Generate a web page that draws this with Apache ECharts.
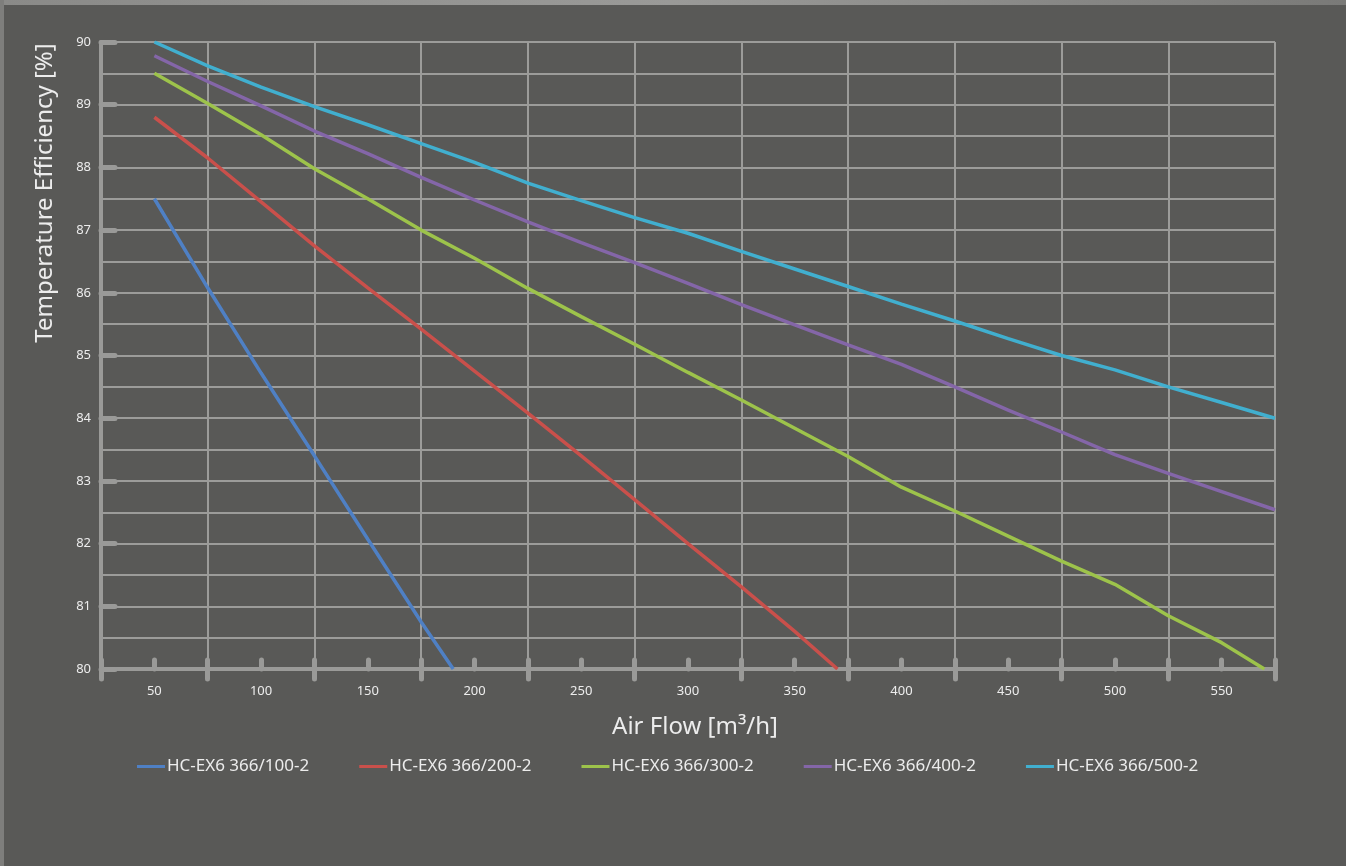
<!DOCTYPE html>
<html>
<head>
<meta charset="utf-8">
<script src="https://cdn.jsdelivr.net/npm/echarts@6/dist/echarts.min.js"></script>
<style>
html,body{margin:0;padding:0;background:#595957;}
#c{width:1346px;height:866px;}
</style>
</head>
<body>
<div id="c"></div>
<script>
// ---- data ----
const seriesNames = ['HC-EX6 366/100-2','HC-EX6 366/200-2','HC-EX6 366/300-2','HC-EX6 366/400-2','HC-EX6 366/500-2'];
const flow100 = [50, 75, 100, 125, 150, 175, 190];
const eff100  = [87.5, 86.08, 84.72, 83.4, 82.07, 80.75, 80.0];
const flow200 = [50, 75, 100, 125, 150, 175, 200, 225, 250, 275, 300, 325, 350, 370];
const eff200  = [88.8, 88.15, 87.45, 86.75, 86.08, 85.42, 84.75, 84.08, 83.4, 82.7, 82.0, 81.31, 80.6, 80.0];
const flow300 = [50, 75, 100, 125, 150, 175, 200, 225, 250, 275, 300, 325, 350, 375, 400, 425, 450, 475, 500, 525, 550, 570];
const eff300  = [89.5, 89.02, 88.52, 87.98, 87.5, 87.0, 86.55, 86.07, 85.62, 85.18, 84.73, 84.29, 83.84, 83.39, 82.9, 82.52, 82.12, 81.72, 81.35, 80.85, 80.42, 80.0];
const flow400 = [50, 75, 100, 125, 150, 175, 200, 225, 250, 275, 300, 325, 350, 375, 400, 425, 450, 475, 500, 525, 550, 575];
const eff400  = [89.78, 89.37, 88.98, 88.58, 88.22, 87.84, 87.48, 87.13, 86.8, 86.48, 86.15, 85.81, 85.49, 85.17, 84.86, 84.5, 84.13, 83.78, 83.42, 83.12, 82.83, 82.54];
const flow500 = [50, 75, 100, 125, 150, 175, 200, 225, 250, 275, 300, 325, 350, 375, 400, 425, 450, 475, 500, 525, 550, 575];
const eff500  = [90.0, 89.62, 89.28, 88.97, 88.68, 88.38, 88.08, 87.75, 87.47, 87.2, 86.95, 86.66, 86.38, 86.1, 85.82, 85.55, 85.27, 85.0, 84.77, 84.5, 84.25, 84.0];
const xLabelValues = [50,100,150,200,250,300,350,400,450,500,550];
const yLabelValues = [80,81,82,83,84,85,86,87,88,89,90];
const xTitle = 'Air Flow [m³/h]';
const yTitle = 'Temperature Efficiency [%]';

const flows = [flow100, flow200, flow300, flow400, flow500];
const effs = [eff100, eff200, eff300, eff400, eff500];
const colors = ['#4f80c4','#c9504b','#9dc34b','#8466a8','#41afcf'];

const FONT = '"Noto Sans", "Open Sans", sans-serif';
const gridCol = '#9c9c9a';
const axisCol = '#9a9a98';
const txtCol = '#ececec';

const chart = echarts.init(document.getElementById('c'), null, {renderer:'canvas'});
const option = {
  backgroundColor: '#595957',
  animation: false,
  textStyle: {fontFamily: FONT},
  grid: {left: 101, right: 71, top: 42, bottom: 197, containLabel: false},
  legend: {
    left: 132, top: 753,
    itemWidth: 28, itemHeight: 3, itemGap: 50,
    icon: 'rect',
    textStyle: {color: txtCol, fontSize: 17, fontFamily: FONT, padding: [0,0,0,-3]},
    data: seriesNames
  },
  xAxis: [
    {
      type: 'value', min: 25, max: 575, interval: 50,
      axisLine: {show: true, lineStyle: {color: axisCol, width: 4}},
      axisTick: {show: true, inside: false, length: 10, lineStyle: {color: axisCol, width: 5, cap: 'round'}},
      axisLabel: {show: false},
      splitLine: {show: true, lineStyle: {color: gridCol, width: 2}}
    },
    {
      type: 'value', min: 25, max: 575, interval: 25, position: 'bottom',
      axisLine: {show: false},
      axisTick: {show: true, inside: true, length: 9, lineStyle: {color: axisCol, width: 5, cap: 'round'}},
      axisLabel: {show: true, color: txtCol, fontSize: 13, margin: 16,
        formatter: v => xLabelValues.indexOf(v) >= 0 ? String(v) : ''},
      splitLine: {show: false},
      name: xTitle, nameLocation: 'middle', nameGap: 46,
      nameTextStyle: {color: txtCol, fontSize: 24, fontFamily: FONT, padding: [0,0,0,14]}
    }
  ],
  yAxis: [
    {
      type: 'value', min: 80, max: 90, interval: 0.5,
      axisLine: {show: true, lineStyle: {color: axisCol, width: 4}},
      axisTick: {show: false},
      axisLabel: {show: false},
      splitLine: {show: true, lineStyle: {color: gridCol, width: 2}}
    },
    {
      type: 'value', min: 80, max: 90, interval: 1, position: 'left',
      axisLine: {show: false},
      axisTick: {show: true, inside: true, length: 14, lineStyle: {color: axisCol, width: 5, cap: 'round'}},
      axisLabel: {show: true, color: txtCol, fontSize: 13, margin: 10,
        formatter: v => yLabelValues.indexOf(v) >= 0 ? String(v) : ''},
      splitLine: {show: false}
    }
  ],
  graphic: [
    {
      type: 'text', x: 45, y: 193, rotation: Math.PI / 2,
      style: {text: yTitle, fill: txtCol, fontSize: 24, fontFamily: FONT, align: 'center', verticalAlign: 'middle'}
    },
    {
      type: 'rect', shape: {x: 0, y: 0, width: 1346, height: 5}, silent: true,
      style: {fill: new echarts.graphic.LinearGradient(0, 0, 1, 0, [
        {offset: 0, color: '#8a8a88'}, {offset: 0.5, color: '#9a9a98'}, {offset: 1, color: '#7a7a78'}])}
    },
    {
      type: 'rect', shape: {x: 0, y: 0, width: 4, height: 866}, silent: true,
      style: {fill: '#7e7e7c'}
    }
  ],
  series: seriesNames.map((n, i) => ({
    name: n, type: 'line', xAxisIndex: 0, yAxisIndex: 0,
    showSymbol: false, symbol: 'none', smooth: false,
    color: colors[i],
    lineStyle: {color: colors[i], width: 3.5},
    data: flows[i].map((x, j) => [x, effs[i][j]]),
    z: 5
  }))
};
chart.setOption(option);
</script>
</body>
</html>
